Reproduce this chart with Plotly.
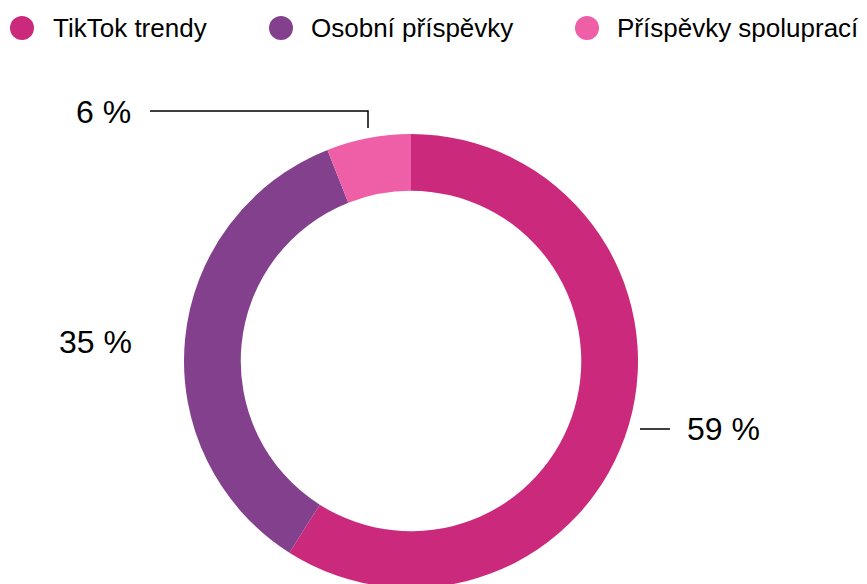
import plotly.graph_objects as go

categories = ["TikTok trendy", "Osobní příspěvky", "Příspěvky spoluprací"]
values = [59, 35, 6]
colors = ["#CB2A7C", "#83418D", "#EF5FA7"]

W, H = 867, 584
OFF = 8  # page body margin offset
FONT = "Liberation Sans, Arial, sans-serif"

def px(x):
    return (x - OFF) / W

def py(y):
    return 1 - (y - OFF) / H

fig = go.Figure()
fig.add_trace(go.Pie(
    labels=categories,
    values=values,
    marker=dict(colors=colors, line=dict(width=0)),
    hole=0.75,
    sort=False,
    direction="clockwise",
    rotation=0,
    textinfo="none",
    hoverinfo="label+percent",
    showlegend=False,
    domain=dict(x=[px(184), px(638)], y=[py(588), py(134)]),
))

shapes = []
annotations = []

# Custom legend (circles + names)
legend_cx = [22, 281, 587]
legend_tx = [51, 309, 615]
for name, col, cx, tx in zip(categories, colors, legend_cx, legend_tx):
    shapes.append(dict(type="circle", xref="paper", yref="paper",
                       x0=px(cx - 12), x1=px(cx + 12), y0=py(40), y1=py(16),
                       fillcolor=col, line=dict(width=0)))
    annotations.append(dict(text=name, xref="paper", yref="paper",
                            x=px(tx), y=py(28), xanchor="left", yanchor="middle",
                            showarrow=False, font=dict(family=FONT, size=26, color="#000")))

# Value labels
label_pos = [(685, 429, "left"), (134, 342, "right"), (133, 112, "right")]
for v, (lx, ly, anc) in zip(values, label_pos):
    annotations.append(dict(text=f"{v} %", xref="paper", yref="paper",
                            x=px(lx), y=py(ly), xanchor=anc, yanchor="middle",
                            showarrow=False, font=dict(family=FONT, size=32, color="#000")))

# Leader lines
shapes.append(dict(type="line", xref="paper", yref="paper",
                   x0=px(640), x1=px(670), y0=py(429), y1=py(429),
                   line=dict(color="#000", width=1.5)))
shapes.append(dict(type="path", xref="paper", yref="paper",
                   path=f"M {px(150)},{py(111)} L {px(368)},{py(111)} L {px(368)},{py(128)}",
                   line=dict(color="#000", width=1.5)))

fig.update_layout(
    width=W, height=H,
    margin=dict(l=0, r=0, t=0, b=0),
    paper_bgcolor="white",
    plot_bgcolor="white",
    shapes=shapes,
    annotations=annotations,
    font=dict(family=FONT),
)

fig.write_html("out.html")
